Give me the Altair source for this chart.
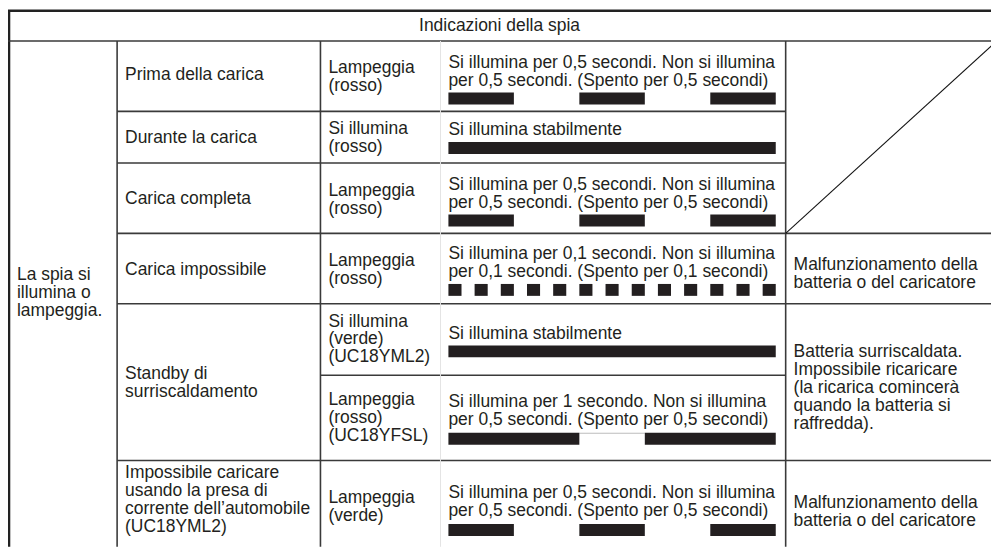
import altair as alt
import pandas as pd

FONT = "Liberation Sans"
FS = 17.6
INK = "#231f20"

# ---- table grid (image pixel coordinates) ----
col_x = [8, 118, 323, 444, 792, 999]          # column edges
row_y = [7, 39, 110, 162, 233, 304, 376, 462, 549]  # row edges (376 = split inside 'Standby')

# ---- texts ----
header = "Indicazioni della spia"
col1_lines = ["La spia si", "illumina o", "lampeggia."]
col1_base = [280, 298, 316]

col2_lines = ["Prima della carica", "Durante la carica", "Carica completa", "Carica impossibile",
              "Standby di", "surriscaldamento",
              "Impossibile caricare", "usando la presa di", "corrente dell\u2019automobile", "(UC18YML2)"]
col2_base = [78, 142, 203, 275, 380, 398, 480, 498, 516, 534]

col3_lines = ["Lampeggia", "(rosso)", "Si illumina", "(rosso)", "Lampeggia", "(rosso)",
              "Lampeggia", "(rosso)", "Si illumina", "(verde)", "(UC18YML2)",
              "Lampeggia", "(rosso)", "(UC18YFSL)", "Lampeggia", "(verde)"]
col3_base = [71, 89, 133, 151, 195, 213, 266, 284, 327, 345, 363, 406, 424, 442, 505, 523]

col4_lines = ["Si illumina per 0,5 secondi. Non si illumina", "per 0,5 secondi. (Spento per 0,5 secondi)",
              "Si illumina stabilmente",
              "Si illumina per 0,5 secondi. Non si illumina", "per 0,5 secondi. (Spento per 0,5 secondi)",
              "Si illumina per 0,1 secondi. Non si illumina", "per 0,1 secondi. (Spento per 0,1 secondi)",
              "Si illumina stabilmente",
              "Si illumina per 1 secondo. Non si illumina", "per 0,5 secondi. (Spento per 0,5 secondi)",
              "Si illumina per 0,5 secondi. Non si illumina", "per 0,5 secondi. (Spento per 0,5 secondi)"]
col4_base = [66, 84, 134, 189, 207, 259, 277, 339, 408, 426, 500, 518]

col5_lines = ["Malfunzionamento della", "batteria o del caricatore",
              "Batteria surriscaldata.", "Impossibile ricaricare", "(la ricarica comincer\u00e0",
              "quando la batteria si", "raffredda).",
              "Malfunzionamento della", "batteria o del caricatore"]
col5_base = [270, 288, 358, 376, 394, 412, 430, 510, 528]

# ---- blink patterns (seconds, alternating on/off, starting on) ----
pattern_05 = [0.5, 0.5, 0.5, 0.5, 0.5]
pattern_on = [2.5]
pattern_01 = [0.1] * 25
pattern_1 = [1.0, 0.5, 1.0]
bar_patterns = [pattern_05, pattern_on, pattern_05, pattern_01, pattern_on, pattern_1, pattern_05]
bar_tops = [91, 141, 214, 284, 346, 434, 526]
BAR_H = 12
BAR_X0 = 452
PX_PER_S = 132

# ---- build tables ----
text_pad = 8
rows = []
for lines, bases, cx in [(col1_lines, col1_base, col_x[0]), (col2_lines, col2_base, col_x[1]),
                         (col3_lines, col3_base, col_x[2]), (col4_lines, col4_base, col_x[3]),
                         (col5_lines, col5_base, col_x[4])]:
    for t, b in zip(lines, bases):
        rows.append({"x": cx + text_pad + (1 if cx == col_x[0] else 0), "y": b, "t": t})
texts = pd.DataFrame(rows)
head = pd.DataFrame([{"x": (col_x[0] + col_x[-1]) / 2, "y": 29, "t": header}])

bars = []
off_lines = []
for pat, top in zip(bar_patterns, bar_tops):
    t = 0.0
    for i, d in enumerate(pat):
        x0 = BAR_X0 + t * PX_PER_S
        x1 = BAR_X0 + (t + d) * PX_PER_S
        if i % 2 == 0:
            bars.append({"x": x0, "x2": x1, "y": top, "y2": top + BAR_H})
        elif d >= 0.5 and len(pat) == 3:
            off_lines.append({"x": x0, "x2": x1, "y": top + 0.5, "y2": top + 0.5, "w": 1, "c": "#bbbbbb"})
        t += d
bars = pd.DataFrame(bars)

L = "#3a3a3a"
segs = [
    # outer borders
    {"x": col_x[0], "x2": col_x[-1], "y": 8.5, "y2": 8.5, "w": 2.6, "c": "#222222"},
    {"x": 9, "x2": 9, "y": 8, "y2": row_y[-1], "w": 2.6, "c": "#222222"},
    # header bottom
    {"x": col_x[0], "x2": col_x[-1], "y": row_y[1], "y2": row_y[1], "w": 1.6, "c": L},
    # rows inside merged diagonal cell area
    {"x": col_x[1], "x2": col_x[4], "y": row_y[2], "y2": row_y[2], "w": 1.6, "c": L},
    {"x": col_x[1], "x2": col_x[4], "y": row_y[3], "y2": row_y[3], "w": 1.6, "c": L},
    {"x": col_x[1], "x2": col_x[-1], "y": row_y[4], "y2": row_y[4], "w": 1.6, "c": L},
    {"x": col_x[1], "x2": col_x[-1], "y": row_y[5], "y2": row_y[5], "w": 1.6, "c": L},
    {"x": col_x[2], "x2": col_x[4], "y": row_y[6], "y2": row_y[6], "w": 1.6, "c": L},
    {"x": col_x[1], "x2": col_x[-1], "y": row_y[7], "y2": row_y[7], "w": 1.6, "c": L},
    # verticals
    {"x": col_x[1], "x2": col_x[1], "y": row_y[1], "y2": row_y[-1], "w": 1.6, "c": L},
    {"x": col_x[2], "x2": col_x[2], "y": row_y[1], "y2": row_y[-1], "w": 1.6, "c": L},
    {"x": col_x[3], "x2": col_x[3], "y": row_y[1], "y2": row_y[-1], "w": 1, "c": "#e4e4e4"},
    {"x": col_x[4], "x2": col_x[4], "y": row_y[1], "y2": row_y[-1], "w": 1.6, "c": L},
    # diagonal in empty cell
    {"x": 1005, "x2": col_x[4], "y": row_y[1], "y2": row_y[4], "w": 1.1, "c": "#111111"},
] + off_lines
segs = pd.DataFrame(segs)

xs = alt.Scale(domain=[8, 999], range=[0, 991], nice=False, zero=False)
ys = alt.Scale(domain=[8, 549], range=[0, 541], nice=False, zero=False)

X = lambda f: alt.X(f, type="quantitative", scale=xs, axis=None)
Y = lambda f: alt.Y(f, type="quantitative", scale=ys, axis=None)

lines_layer = alt.Chart(segs).mark_rule().encode(
    x=X("x"), x2="x2", y=Y("y"), y2="y2",
    strokeWidth=alt.StrokeWidth("w:Q", scale=None),
    color=alt.Color("c:N", scale=None),
)

bar_layer = alt.Chart(bars).mark_rect(color=INK).encode(
    x=X("x"), x2="x2", y=Y("y"), y2="y2"
)

text_layer = alt.Chart(texts).mark_text(
    align="left", baseline="alphabetic", font=FONT, fontSize=FS, color=INK
).encode(x=X("x"), y=Y("y"), text="t:N")

head_layer = alt.Chart(head).mark_text(
    align="center", baseline="alphabetic", font=FONT, fontSize=FS, color=INK
).encode(x=X("x"), y=Y("y"), text="t:N")

chart = alt.layer(lines_layer, bar_layer, text_layer, head_layer).properties(
    width=991, height=541, padding=0, autosize=alt.AutoSizeParams(type="none"),
    background="white",
).configure_view(stroke=None)

chart.save("out.html", embed_options={"renderer": "svg", "actions": False})
